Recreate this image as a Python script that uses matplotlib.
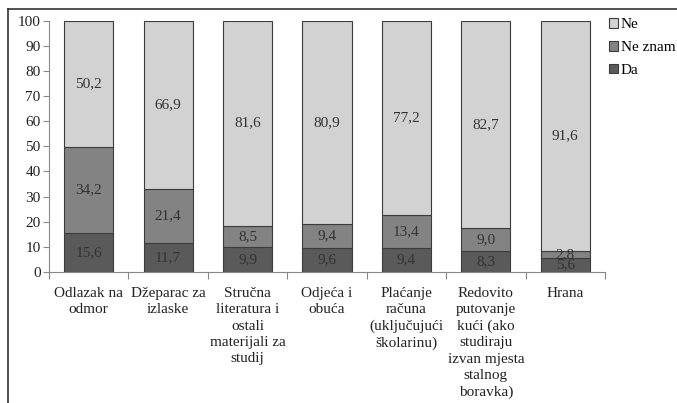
import matplotlib
matplotlib.use("Agg")
import matplotlib.pyplot as plt
from matplotlib.lines import Line2D
import numpy as np

categories = ["Odlazak na\nodmor", "Džeparac za\nizlaske", "Stručna\nliteratura i\nostali\nmaterijali za\nstudij",
              "Odjeća i\nobuća", "Plaćanje\nračuna\n(uključujući\nškolarinu)",
              "Redovito\nputovanje\nkući (ako\nstudiraju\nizvan mjesta\nstalnog\nboravka)", "Hrana"]
da = [15.6, 11.7, 9.9, 9.6, 9.4, 8.3, 5.6]
ne_znam = [34.2, 21.4, 8.5, 9.4, 13.4, 9.0, 2.8]
ne = [50.2, 66.9, 81.6, 80.9, 77.2, 82.7, 91.6]
yticks = [0, 10, 20, 30, 40, 50, 60, 70, 80, 90, 100]

plt.rcParams['font.family'] = ['Liberation Serif', 'DejaVu Serif']

fig = plt.figure(figsize=(6.77, 4.03), dpi=100)
ax = fig.add_axes([49/677, 1-272/403, (605-49)/677, (272-20.5)/403])

c_da, c_nz, c_ne = "#5a5a5a", "#838383", "#d2d2d2"
edge = "#3c3c3c"
x = np.arange(len(categories))
w = 0.62
da_a = np.array(da); nz_a = np.array(ne_znam); ne_a = np.array(ne)
b1 = ax.bar(x, da_a, w, color=c_da, edgecolor=edge, linewidth=0.8, label="Da")
b2 = ax.bar(x, nz_a, w, bottom=da_a, color=c_nz, edgecolor=edge, linewidth=0.8, label="Ne znam")
b3 = ax.bar(x, ne_a, w, bottom=da_a + nz_a, color=c_ne, edgecolor=edge, linewidth=0.8, label="Ne")

tc = "#333333"
fs = 11
for i in range(len(x)):
    segs = [(0, da_a[i]), (da_a[i], nz_a[i]), (da_a[i] + nz_a[i], ne_a[i])]
    for bot, h in segs:
        ax.text(x[i], bot + h/2, f"{h:.1f}".replace(".", ","), ha="center", va="center",
                fontsize=fs, color=tc)

ax.set_xlim(-0.5, len(x) - 0.5)
ax.set_ylim(0, 100)
ax.set_yticks(yticks)
ax.set_yticklabels([str(t) for t in yticks], fontsize=fs, color="#222222")
ax.set_xticks(x)
ax.set_xticklabels(categories, fontsize=fs, color="#222222", linespacing=1.32)
ax.tick_params(axis='x', length=0, pad=11)
ax.set_xticks(np.arange(len(x) + 1) - 0.5, minor=True)
ax.tick_params(axis='x', which='minor', length=5, color="#888888", width=0.8)
ax.tick_params(axis='y', length=4, color="#888888", width=0.8, pad=2)
for s in ["top", "right"]:
    ax.spines[s].set_visible(False)
ax.spines["left"].set_color("#888888")
ax.spines["bottom"].set_color("#888888")

handles = [b3, b2, b1]
leg = fig.legend(handles, ["Ne", "Ne znam", "Da"], loc="upper left",
                 bbox_to_anchor=(603/677, 1-12/403), frameon=False, fontsize=fs,
                 handlelength=0.6, handleheight=0.6, handletextpad=0.15, labelspacing=0.62,
                 borderpad=0.3, borderaxespad=0.1)

# outer frame lines (top and left)
fig.add_artist(Line2D([8/677, 1], [1-9/403, 1-9/403], color="#333333", linewidth=1.2))
fig.add_artist(Line2D([8/677, 8/677], [0, 1-9/403], color="#333333", linewidth=1.2))

fig.savefig("out.png", dpi=100)
